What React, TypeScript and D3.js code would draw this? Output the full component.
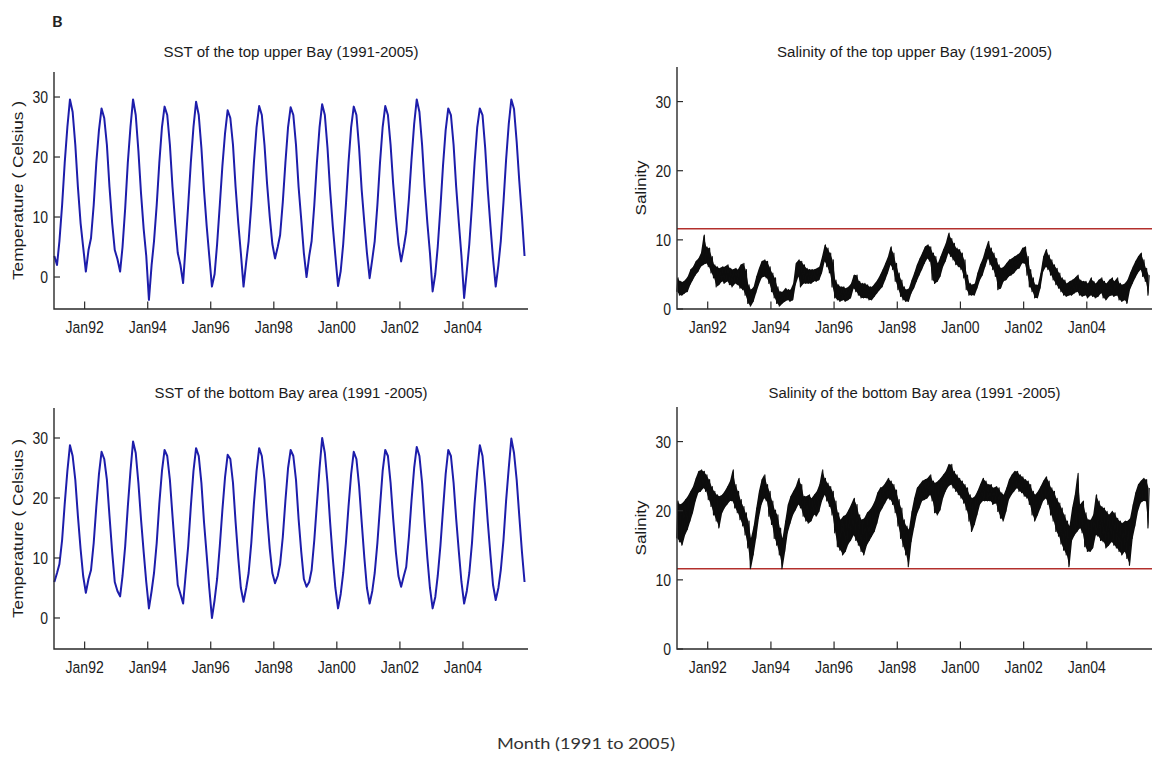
import React from "react";
import * as d3 from "d3";

// Monthly series, January 1991 through December 2005 (180 months each)
const FIRST_YEAR = 1991;
const tickYears = [1992, 1994, 1996, 1998, 2000, 2002, 2004];
const tempTicks = [0, 10, 20, 30];
const salinityTicks = [0, 10, 20, 30];
const salinityThreshold = 11.6;

// Sea-surface temperature (°C), monthly, upper bay
const sstTop: number[] = [
  3.5, 2, 6, 12, 19, 25, 29.6, 27.5, 22, 15, 9, 5,
  0.9, 4.5, 6.5, 12, 19, 24.5, 28.1, 26.5, 22, 15, 9, 4.5,
  3, 0.9, 5, 11.5, 19, 25, 29.6, 27, 21, 14, 8, 3.5,
  -3.8, 2, 6, 12, 19, 25, 28.4, 27, 22, 15, 9, 4,
  2, -1, 5, 12, 19, 25, 29.2, 27, 21.5, 14.5, 8.5, 3.5,
  -1.6, 0.5, 5.5, 12, 18.5, 24, 27.8, 26.5, 22, 15, 9, 4,
  -1.6, 2.5, 6, 12, 19, 25, 28.5, 27, 22, 15.5, 10, 5.5,
  3.1, 5, 7, 12.5, 19, 25, 28.3, 27, 22, 15, 9.5, 4,
  0, 3.5, 6, 12, 19, 25, 28.8, 27, 21.5, 14.5, 8.5, 3.5,
  -1.5, 1, 5.5, 12, 19, 25, 28.4, 27, 21.5, 14.5, 9, 4,
  -0.2, 3, 6, 12, 19, 25, 28.5, 27, 22, 15.5, 10, 5.5,
  2.6, 5, 7.5, 13, 19.5, 25.5, 29.6, 27.5, 22, 15, 9, 4,
  -2.4, 0.5, 5, 11.5, 18.5, 24.5, 28.1, 27, 22, 15, 9, 3.5,
  -3.5, 1, 5.5, 12, 19, 25, 28.1, 27, 21.5, 14.5, 8.5, 3,
  -1.6, 2, 6, 12.5, 19.5, 25.5, 29.6, 28, 22.5, 16, 10, 3.5,
];

// Sea-surface temperature (°C), monthly, lower bay
const sstBottom: number[] = [
  6, 7.5, 9, 13, 19, 24.5, 28.8, 27, 23, 17, 11.5, 7,
  4.2, 6.5, 8, 12.5, 18.5, 24, 27.7, 26.5, 23, 17, 11, 6,
  4.5, 3.6, 7, 12, 18.5, 24.5, 29.4, 27.5, 22.5, 16.5, 11, 6,
  1.6, 4.5, 7.5, 12.5, 19, 24.5, 28, 27, 23, 17, 11, 5.5,
  4, 2.4, 7, 12, 18.5, 24.5, 28.3, 27, 22.5, 16, 10.5, 5,
  0, 3, 6.5, 12, 18, 23.5, 27.2, 26.5, 22.5, 16, 10, 5,
  2.7, 5, 7.5, 12.5, 19, 24.5, 28.3, 27, 23, 17, 11.5, 7.5,
  5.8, 7, 9, 13.5, 19.5, 25, 28, 27, 23, 16.5, 11, 6.5,
  5.2, 6, 8, 13, 19, 25, 30, 27.5, 22.5, 16, 10, 5,
  1.6, 4, 7.5, 12.5, 18.5, 24, 27.7, 26.5, 22, 16, 10, 5,
  2.4, 4.5, 7.5, 12.5, 18.5, 24.5, 28, 27, 22.5, 16.5, 11, 7,
  5.2, 7, 8.5, 13.5, 19.5, 25, 28.5, 27, 22.5, 16, 10, 5,
  1.6, 3.5, 7, 12, 18, 24, 28, 27, 22.5, 16.5, 11, 6,
  2.4, 4.5, 7.5, 12.5, 19, 24.5, 28.8, 27, 22, 16, 10.5, 5.5,
  3, 5, 8, 13, 19.5, 25, 29.9, 27.5, 23, 17, 11, 6,
];

// Salinity, monthly minimum and maximum, upper bay
const salTopLo: number[] = [
  2.5, 2.0, 2.0, 2.3, 2.5, 3.5, 4.2, 4.9, 5.4, 6.1,
  6.4, 6.6, 6.1, 5.2, 4.5, 3.2, 3.5, 4.0, 3.7, 4.0,
  3.5, 3.2, 3.7, 3.5, 3.0, 2.8, 2.0, 0.8, 0.4, 1.1,
  2.3, 3.5, 4.5, 4.7, 4.5, 3.7, 2.5, 1.6, 0.8, 0.4,
  0.8, 1.1, 1.3, 1.1, 1.3, 3.5, 4.7, 3.2, 3.7, 3.7,
  3.7, 3.7, 4.0, 4.0, 4.2, 5.2, 6.9, 6.1, 5.2, 3.2,
  1.6, 1.3, 1.1, 1.3, 1.1, 1.3, 1.6, 3.0, 2.5, 2.0,
  1.6, 1.6, 1.6, 1.3, 1.3, 1.8, 2.3, 2.8, 3.2, 4.2,
  5.2, 6.4, 5.7, 4.0, 2.8, 1.8, 1.3, 1.1, 1.1, 2.3,
  3.0, 4.0, 4.9, 5.7, 6.6, 7.3, 6.9, 4.2, 3.7, 4.0,
  4.7, 6.1, 6.9, 8.1, 7.6, 7.1, 6.4, 6.1, 5.7, 4.5,
  2.8, 2.0, 2.0, 2.0, 3.0, 4.2, 4.9, 6.1, 7.3, 6.4,
  5.7, 4.7, 2.8, 3.0, 4.0, 4.2, 4.7, 4.9, 5.2, 5.7,
  5.9, 6.6, 6.6, 4.9, 3.2, 2.5, 1.6, 1.6, 3.0, 5.4,
  6.1, 5.7, 4.9, 4.2, 3.5, 3.0, 2.5, 2.0, 1.8, 2.0,
  2.0, 2.3, 2.5, 2.0, 1.8, 2.0, 1.6, 2.0, 1.8, 1.6,
  1.8, 2.3, 1.6, 1.3, 1.8, 2.0, 1.8, 2.0, 1.3, 1.1,
  1.3, 0.8, 2.8, 3.7, 4.5, 5.2, 5.7, 4.7, 4.0, 2.0,
];
const salTopHi: number[] = [
  4.5, 4.0, 3.9, 4.2, 4.7, 5.7, 6.1, 6.9, 7.3, 8.1,
  10.7, 9.0, 8.8, 7.6, 6.4, 6.1, 5.9, 6.1, 6.1, 6.4,
  5.9, 5.7, 5.9, 5.7, 6.4, 6.6, 5.7, 3.5, 2.8, 3.2,
  4.7, 5.9, 6.9, 7.1, 6.9, 6.1, 5.2, 4.5, 3.2, 2.5,
  2.5, 3.0, 2.8, 2.8, 3.7, 6.6, 7.1, 6.9, 6.4, 5.9,
  5.7, 5.7, 5.7, 5.9, 6.1, 7.6, 9.3, 8.8, 8.1, 7.1,
  4.2, 3.5, 3.2, 3.2, 3.0, 3.2, 3.7, 4.9, 4.9, 4.0,
  3.7, 3.7, 3.5, 3.2, 3.2, 3.7, 4.2, 4.9, 5.7, 6.6,
  7.6, 9.0, 8.1, 6.6, 5.2, 4.2, 3.2, 2.8, 3.0, 4.2,
  5.2, 6.4, 7.3, 8.1, 9.0, 9.3, 9.0, 8.1, 7.6, 6.6,
  7.6, 8.6, 9.5, 11.0, 10.2, 9.5, 8.8, 8.6, 8.1, 7.1,
  4.9, 3.7, 3.5, 3.7, 5.2, 6.4, 7.3, 8.6, 9.8, 8.8,
  8.1, 7.3, 6.4, 5.9, 6.1, 6.6, 7.1, 7.3, 7.6, 7.8,
  8.1, 8.8, 9.0, 7.6, 5.7, 4.5, 3.5, 3.5, 5.2, 7.6,
  8.6, 7.8, 7.1, 6.4, 5.9, 5.2, 4.5, 4.2, 3.7, 4.0,
  4.2, 4.5, 4.9, 4.2, 4.0, 4.0, 3.7, 4.5, 4.0, 3.7,
  4.2, 4.5, 4.0, 3.7, 4.2, 4.5, 4.0, 4.5, 3.7, 3.5,
  3.7, 4.2, 5.2, 6.1, 6.9, 7.6, 8.1, 7.1, 5.9, 4.9,
];

// Salinity, monthly minimum and maximum, lower bay
const salBotLo: number[] = [
  16.0, 15.5, 15.0, 16.5, 17.3, 18.5, 19.7, 21.4, 22.6, 22.8,
  23.3, 22.8, 21.6, 20.6, 19.4, 18.5, 17.5, 19.6, 20.4, 20.9,
  21.4, 21.4, 20.4, 19.7, 18.7, 17.8, 16.5, 14.6, 11.6, 13.6,
  16.0, 18.9, 20.9, 21.8, 21.4, 19.2, 18.0, 16.0, 15.0, 13.6,
  11.6, 14.1, 16.8, 18.2, 19.4, 20.1, 20.9, 20.4, 19.2, 18.5,
  18.2, 18.5, 19.4, 19.2, 19.9, 21.4, 22.3, 21.4, 20.6, 19.4,
  16.8, 14.8, 14.3, 13.6, 14.1, 15.2, 15.7, 16.5, 15.7, 15.0,
  14.1, 13.6, 15.0, 15.7, 16.3, 17.0, 18.2, 19.7, 20.4, 21.1,
  21.8, 21.6, 20.9, 19.7, 17.8, 16.0, 14.8, 13.6, 11.9, 15.5,
  17.5, 19.4, 20.4, 21.4, 21.6, 21.8, 22.3, 21.4, 19.7, 19.4,
  20.1, 21.8, 22.8, 23.5, 23.8, 23.3, 22.8, 22.3, 21.8, 21.1,
  20.1, 18.5, 17.0, 18.0, 19.4, 20.9, 21.4, 21.4, 21.4, 21.4,
  20.9, 21.1, 19.9, 18.9, 18.5, 19.9, 21.6, 22.3, 22.8, 23.3,
  22.8, 22.6, 22.1, 21.8, 20.9, 19.4, 18.5, 19.4, 20.4, 21.4,
  21.8, 20.9, 19.4, 18.5, 17.0, 16.3, 15.2, 14.3, 13.6, 11.9,
  15.7, 16.5, 17.0, 17.5, 16.8, 14.8, 14.1, 14.1, 14.6, 16.5,
  16.3, 15.7, 15.5, 14.6, 15.0, 15.5, 15.0, 14.6, 14.1, 13.6,
  14.1, 13.1, 12.1, 16.0, 17.8, 19.9, 21.1, 21.4, 21.4, 17.5,
];
const salBotHi: number[] = [
  21.4, 20.9, 21.1, 21.6, 22.1, 22.8, 23.5, 24.7, 25.7, 25.9,
  25.7, 25.2, 24.5, 23.5, 22.8, 22.3, 22.1, 22.3, 22.8, 23.5,
  24.3, 25.9, 23.8, 22.8, 21.6, 20.6, 19.7, 18.5, 16.0, 17.8,
  20.4, 22.8, 24.5, 25.2, 23.8, 22.8, 21.4, 20.1, 19.4, 17.5,
  16.0, 18.5, 20.9, 22.1, 22.8, 23.5, 24.7, 23.8, 22.1, 22.1,
  22.3, 21.8, 22.3, 22.8, 23.8, 25.9, 24.7, 24.0, 23.5, 22.8,
  21.4, 19.7, 18.7, 19.2, 19.4, 20.1, 20.9, 21.8, 20.9, 19.4,
  18.7, 18.9, 19.7, 20.1, 20.6, 21.4, 22.6, 23.3, 23.5, 24.0,
  24.7, 24.3, 23.8, 23.0, 21.6, 20.4, 18.7, 17.8, 17.3, 19.9,
  21.8, 23.3, 23.8, 24.3, 24.5, 24.7, 25.2, 24.3, 24.0, 24.3,
  24.7, 25.2, 25.7, 26.7, 26.7, 25.7, 25.2, 24.7, 24.3, 23.8,
  23.3, 22.3, 21.8, 22.1, 22.8, 23.8, 24.7, 24.3, 23.8, 23.8,
  23.3, 23.5, 23.3, 22.6, 22.3, 23.3, 24.5, 25.2, 25.7, 25.7,
  25.2, 24.9, 24.5, 24.3, 23.8, 22.8, 22.3, 22.8, 23.5, 24.3,
  24.9, 24.3, 23.3, 22.8, 21.8, 21.1, 20.4, 19.4, 18.5, 17.8,
  20.4, 22.3, 25.4, 20.9, 21.4, 19.7, 18.7, 18.7, 19.4, 22.3,
  21.4, 20.6, 20.4, 19.9, 19.4, 19.9, 19.7, 18.9, 18.5, 18.2,
  18.5, 18.5, 18.9, 20.9, 22.6, 23.8, 24.3, 24.7, 24.5, 23.3,
];

const FONT = "'Liberation Sans', Arial, Helvetica, sans-serif";
const TEXT = "#1b1b1b";
const AXIS = "#2a2a2a";
const SST_BLUE = "#1d1dab";
const RED = "#b3302c";

const timeDomain: [Date, Date] = [new Date(1991, 0, 11), new Date(2006, 0, 24)];
const fmt = d3.timeFormat("%b%y");

type Pt = [Date, number];
type Band = { t: Date; lo: number; hi: number };

interface PanelSpec {
  left: number;
  right: number;
  top: number;
  bottom: number;
  yDomain: [number, number];
  yTicks: number[];
  title: string;
  titleLen: number;
  ylabel: string;
  ylabelLen: number;
  ylabelX: number;
  kind: "sst" | "sal";
  values?: number[];
  lo?: number[];
  hi?: number[];
}

const panels: PanelSpec[] = [
  {
    left: 54, right: 528, top: 72, bottom: 309, yDomain: [-5.33, 34.17], yTicks: tempTicks,
    title: "SST of the top upper Bay (1991-2005)", titleLen: 255,
    ylabel: "Temperature ( Celsius )", ylabelLen: 179, ylabelX: 22.5,
    kind: "sst", values: sstTop,
  },
  {
    left: 677, right: 1152, top: 67, bottom: 309, yDomain: [0, 35], yTicks: salinityTicks,
    title: "Salinity of the top upper Bay (1991-2005)", titleLen: 275,
    ylabel: "Salinity", ylabelLen: 55, ylabelX: 645.5,
    kind: "sal", lo: salTopLo, hi: salTopHi,
  },
  {
    left: 54, right: 528, top: 408, bottom: 649, yDomain: [-5.17, 35], yTicks: tempTicks,
    title: "SST of the bottom Bay area (1991 -2005)", titleLen: 273,
    ylabel: "Temperature ( Celsius )", ylabelLen: 179, ylabelX: 22.5,
    kind: "sst", values: sstBottom,
  },
  {
    left: 677, right: 1152, top: 407, bottom: 649, yDomain: [0, 35], yTicks: salinityTicks,
    title: "Salinity of the bottom Bay area (1991 -2005)", titleLen: 292,
    ylabel: "Salinity", ylabelLen: 55, ylabelX: 645.5,
    kind: "sal", lo: salBotLo, hi: salBotHi,
  },
];

function monthDate(i: number, day: number): Date {
  return new Date(FIRST_YEAR, i, day);
}

function Panel({ p }: { p: PanelSpec }) {
  const x = d3.scaleTime().domain(timeDomain).range([p.left, p.right]);
  const y = d3.scaleLinear().domain(p.yDomain).range([p.bottom, p.top]);
  const line = d3.line<Pt>().x((d) => x(d[0])).y((d) => y(d[1]));
  const area = d3
    .area<Band>()
    .x((d) => x(d.t))
    .y0((d) => y(d.lo))
    .y1((d) => y(d.hi));

  let pts: Pt[] = [];
  let bands: Band[] = [];
  if (p.kind === "sst" && p.values) {
    pts = p.values.map((v, i) => [monthDate(i, 15), v] as Pt);
  } else if (p.lo && p.hi) {
    // monthly min/max envelope: filled band plus a zigzag trace across it
    bands = p.lo.map((v, i) => ({ t: monthDate(i, 15), lo: v, hi: p.hi![i] }));
    p.lo.forEach((v, i) => {
      pts.push([monthDate(i, 8), v]);
      pts.push([monthDate(i, 23), p.hi![i]]);
    });
  }

  const midX = (p.left + p.right) / 2;
  const midY = (p.top + p.bottom) / 2;
  const titleY = p.top < 200 ? 57 : 397.5;
  const sy = 1.22;

  return (
    <g>
      <text
        x={midX}
        y={titleY}
        textAnchor="middle"
        fontFamily={FONT}
        fontSize={15.5}
        fill={TEXT}
        textLength={p.titleLen}
        lengthAdjust="spacingAndGlyphs"
      >
        {p.title}
      </text>

      <text
        transform={`translate(${p.ylabelX},${midY}) rotate(-90)`}
        textAnchor="middle"
        fontFamily={FONT}
        fontSize={15}
        fill={TEXT}
        textLength={p.ylabelLen}
        lengthAdjust="spacingAndGlyphs"
      >
        {p.ylabel}
      </text>

      {p.kind === "sal" && (
        <line
          x1={p.left}
          x2={p.right}
          y1={y(salinityThreshold)}
          y2={y(salinityThreshold)}
          stroke={RED}
          strokeWidth={1.6}
        />
      )}

      {p.kind === "sal" && (
        <path d={area(bands) || ""} fill="#0d0d0d" stroke="none" />
      )}

      <path
        d={line(pts) || ""}
        fill="none"
        stroke={p.kind === "sst" ? SST_BLUE : "#0d0d0d"}
        strokeWidth={p.kind === "sst" ? 2 : 1.1}
        strokeLinejoin="round"
      />

      <path
        d={`M${p.left},${p.top}V${p.bottom}H${p.right}`}
        fill="none"
        stroke={AXIS}
        strokeWidth={1.4}
      />

      {tickYears.map((yr) => {
        const d = new Date(yr, 0, 1);
        const tx = x(d);
        return (
          <g key={yr}>
            <line x1={tx} x2={tx} y1={p.bottom} y2={p.bottom - 7.5} stroke={AXIS} strokeWidth={1.2} />
            <g transform={`translate(${tx},${p.bottom + 24}) scale(1,${sy})`}>
              <text textAnchor="middle" fontFamily={FONT} fontSize={14} fill={TEXT}>
                {fmt(d)}
              </text>
            </g>
          </g>
        );
      })}

      {p.yTicks.map((v) => {
        const ty = y(v);
        return (
          <g key={v}>
            <line x1={p.left} x2={p.left + 6} y1={ty} y2={ty} stroke={AXIS} strokeWidth={1.2} />
            <g transform={`translate(${p.left - 6},${ty + 6}) scale(1,${sy})`}>
              <text textAnchor="end" fontFamily={FONT} fontSize={14} fill={TEXT}>
                {v}
              </text>
            </g>
          </g>
        );
      })}
    </g>
  );
}

export default function App() {
  return (
    <svg
      width={1157}
      height={767}
      viewBox="0 0 1157 767"
      style={{ position: "absolute", left: 0, top: 0, background: "#fff" }}
    >
      <rect x={0} y={0} width={1157} height={767} fill="#fff" />
      <text x={52} y={27} fontFamily="Lato, 'Open Sans', sans-serif" fontWeight={700} fontSize={16} fill="#222">
        B
      </text>
      {panels.map((p, i) => (
        <Panel key={i} p={p} />
      ))}
      <text
        x={586}
        y={748.5}
        textAnchor="middle"
        fontFamily="Lato, 'Open Sans', sans-serif"
        fontSize={15.5}
        fill="#333"
        textLength={178}
        lengthAdjust="spacingAndGlyphs"
      >
        Month (1991 to 2005)
      </text>
    </svg>
  );
}
